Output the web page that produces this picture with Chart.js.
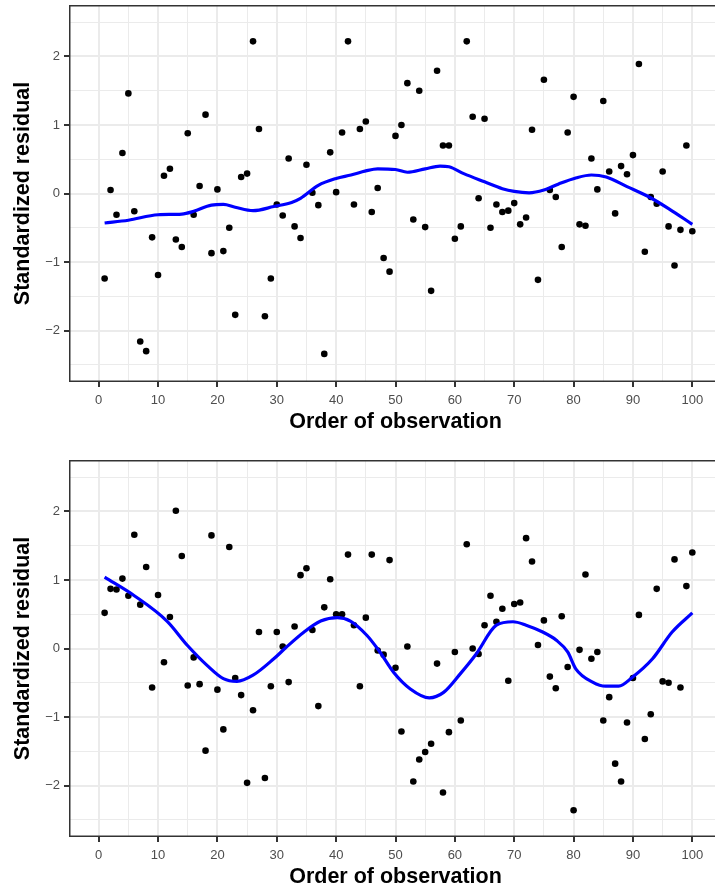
<!DOCTYPE html>
<html>
<head>
<meta charset="utf-8">
<script src="https://cdn.jsdelivr.net/npm/chart.js@4.4.1/dist/chart.umd.min.js"></script>
<style>
  html, body { margin: 0; padding: 0; background: #fff; overflow: hidden; }
  .panel { position: absolute; left: 0; width: 726px; height: 444px; }
</style>
</head>
<body>
<div class="panel" style="top:0"><canvas id="chartTop" width="726" height="444"></canvas></div>
<div class="panel" style="top:455px"><canvas id="chartBottom" width="726" height="444"></canvas></div>
<script>
// Order of observation (x) for both panels
const obsOrder = Array.from({ length: 100 }, (_, i) => i + 1);

// Standardized residuals, top panel
const residTop = [
  -1.24, 0.05, -0.31, 0.59, 1.46, -0.26, -2.16, -2.30, -0.64, -1.19,
  0.26, 0.36, -0.67, -0.78, 0.88, -0.31, 0.11, 1.15, -0.87, 0.06,
  -0.84, -0.50, -1.77, 0.24, 0.29, 2.22, 0.94, -1.79, -1.24, -0.16,
  -0.32, 0.51, -0.48, -0.65, 0.42, 0.01, -0.17, -2.34, 0.60, 0.02,
  0.89, 2.22, -0.16, 0.94, 1.05, -0.27, 0.08, -0.94, -1.14, 0.84,
  1.00, 1.61, -0.38, 1.50, -0.49, -1.42, 1.79, 0.70, 0.70, -0.66,
  -0.48, 2.22, 1.12, -0.07, 1.09, -0.50, -0.16, -0.27, -0.25, -0.14,
  -0.45, -0.35, 0.93, -1.26, 1.66, 0.05, -0.05, -0.78, 0.89, 1.41,
  -0.45, -0.47, 0.51, 0.06, 1.35, 0.32, -0.29, 0.40, 0.28, 0.56,
  1.89, -0.85, -0.05, -0.15, 0.32, -0.48, -1.05, -0.53, 0.70, -0.55
];

// Standardized residuals, bottom panel
const residBottom = [
  0.52, 0.87, 0.86, 1.02, 0.77, 1.66, 0.64, 1.19, -0.57, 0.78,
  -0.20, 0.46, 2.01, 1.35, -0.54, -0.13, -0.52, -1.49, 1.65, -0.60,
  -1.18, 1.48, -0.43, -0.68, -1.96, -0.90, 0.24, -1.89, -0.55, 0.24,
  0.03, -0.49, 0.32, 1.07, 1.17, 0.27, -0.84, 0.60, 1.01, 0.50,
  0.50, 1.37, 0.34, -0.55, 0.45, 1.37, -0.03, -0.09, 1.29, -0.28,
  -1.21, 0.03, -1.94, -1.62, -1.51, -1.39, -0.22, -2.10, -1.22, -0.05,
  -1.05, 1.52, 0.00, -0.08, 0.34, 0.77, 0.39, 0.58, -0.47, 0.65,
  0.67, 1.61, 1.27, 0.05, 0.41, -0.41, -0.58, 0.47, -0.27, -2.36,
  -0.02, 1.08, -0.15, -0.05, -1.05, -0.71, -1.68, -1.94, -1.08, -0.43,
  0.49, -1.32, -0.96, 0.87, -0.48, -0.50, 1.30, -0.57, 0.91, 1.40
];

// Smoothed trend (loess) through each panel
const smoothTopX = [1, 5, 10, 14, 16, 19, 21, 23, 26, 29.5, 32.5, 34, 37, 40, 42.5, 45, 47, 50,
  52, 55, 57.5, 59, 61.5, 65, 68, 70, 72.5, 75, 77.5, 80.5, 83, 85.5, 89, 92.5, 96, 100];
const smoothTopY = [-0.43, -0.39, -0.31, -0.30, -0.26, -0.17, -0.16, -0.20, -0.25, -0.19, -0.13, -0.07,
  0.12, 0.22, 0.27, 0.33, 0.36, 0.35, 0.31, 0.36, 0.40, 0.39, 0.29, 0.17, 0.07, 0.03, 0.01, 0.05,
  0.14, 0.23, 0.27, 0.24, 0.10, -0.04, -0.22, -0.45];

const smoothBottomX = [1, 6, 11.5, 15, 18.3, 21, 23.3, 26, 29.5, 31.5, 34.6, 37.4, 40.2, 42.4, 45.2,
  47.2, 49.7, 52.5, 55.7, 58.1, 60.9, 63.6, 67, 69.8, 72, 74.8, 77.1, 79, 80.4, 83.2, 85.4, 87.6,
  89.9, 93.3, 96.6, 100];
const smoothBottomY = [1.04, 0.77, 0.40, 0.04, -0.25, -0.44, -0.48, -0.39, -0.15, 0.01, 0.24, 0.40,
  0.45, 0.40, 0.19, -0.03, -0.35, -0.59, -0.72, -0.64, -0.37, -0.08, 0.34, 0.39, 0.34, 0.24, 0.12,
  -0.05, -0.30, -0.49, -0.55, -0.55, -0.42, -0.15, 0.24, 0.52];

// Axis ticks: labelled majors and unlabelled minor grid lines
const xMajor = [0, 10, 20, 30, 40, 50, 60, 70, 80, 90, 100];
const xMinor = [5, 15, 25, 35, 45, 55, 65, 75, 85, 95];
const yMajor = [-2, -1, 0, 1, 2];
const yMinor = [-2.5, -1.5, -0.5, 0.5, 1.5, 2.5];

const FONT = "'Liberation Sans', Arial, sans-serif";

// dark box round the plotting area
const panelBorder = {
  id: 'panelBorder',
  afterDraw(chart) {
    const { ctx, chartArea: a } = chart;
    ctx.save();
    ctx.strokeStyle = '#333333';
    ctx.lineWidth = 1.5;
    ctx.strokeRect(a.left + 0.75, a.top + 0.75, a.right - a.left - 1.5, a.bottom - a.top - 1.5);
    ctx.restore();
  }
};

function tickList(major, minor) {
  return [...major, ...minor].sort((a, b) => a - b).map(v => ({ value: v }));
}

function gridFor(major) {
  const isMajor = c => c.tick && major.includes(c.tick.value);
  return {
    color: '#ebebeb',
    lineWidth: c => isMajor(c) ? 2 : 1,
    tickColor: c => isMajor(c) ? '#333333' : 'rgba(0,0,0,0)',
    tickLength: 5
  };
}

function makeChart(id, resid, sx, sy) {
  const points = obsOrder.map((x, i) => ({ x: x, y: resid[i] }));
  const smooth = sx.map((x, i) => ({ x: x, y: sy[i] }));

  return new Chart(document.getElementById(id), {
    type: 'scatter',
    data: {
      datasets: [
        {
          data: smooth,
          showLine: true,
          borderColor: '#0000ff',
          borderWidth: 3.2,
          pointRadius: 0,
          cubicInterpolationMode: 'monotone',
          order: 0
        },
        {
          data: points,
          backgroundColor: '#000000',
          pointRadius: 3.3,
          pointBorderWidth: 0,
          order: 1
        }
      ]
    },
    options: {
      responsive: false,
      animation: false,
      devicePixelRatio: 1,
      layout: { padding: { top: 5, left: 0, right: 1, bottom: 0 } },
      plugins: { legend: { display: false }, tooltip: { enabled: false } },
      scales: {
        x: {
          type: 'linear',
          min: -5,
          max: 105,
          afterBuildTicks: axis => { axis.ticks = tickList(xMajor, xMinor); },
          afterFit: axis => {
            axis.height = 62;
            axis.paddingLeft = 0;
            axis.paddingRight = 0;
          },
          grid: gridFor(xMajor),
          border: { display: false },
          ticks: {
            autoSkip: false,
            maxRotation: 0,
            color: '#4d4d4d',
            padding: 6,
            font: { family: FONT, size: 13 },
            callback: v => xMajor.includes(v) ? String(v) : ''
          },
          title: {
            display: true,
            text: 'Order of observation',
            color: '#000000',
            font: { family: FONT, size: 21.5, weight: 'bold' },
            padding: { top: 0, bottom: 9 }
          }
        },
        y: {
          type: 'linear',
          min: -2.75,
          max: 2.75,
          afterBuildTicks: axis => { axis.ticks = tickList(yMajor, yMinor); },
          afterFit: axis => {
            axis.width = 69;
            axis.paddingTop = 0;
            axis.paddingBottom = 0;
          },
          grid: gridFor(yMajor),
          border: { display: false },
          ticks: {
            autoSkip: false,
            color: '#4d4d4d',
            padding: 4,
            font: { family: FONT, size: 13 },
            callback: v => yMajor.includes(v) ? (v < 0 ? '\u2212' + Math.abs(v) : String(v)) : ''
          },
          title: {
            display: true,
            text: 'Standardized residual',
            color: '#000000',
            font: { family: FONT, size: 21.5, weight: 'bold' },
            padding: { top: 10, bottom: 0 }
          }
        }
      }
    },
    plugins: [panelBorder]
  });
}

makeChart('chartTop', residTop, smoothTopX, smoothTopY);
makeChart('chartBottom', residBottom, smoothBottomX, smoothBottomY);
</script>
</body>
</html>
